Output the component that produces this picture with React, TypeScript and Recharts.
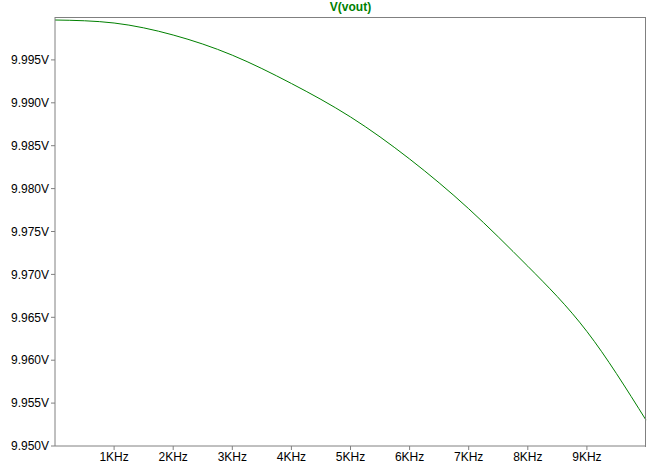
import React from 'react';
import { LineChart, Line, XAxis, YAxis } from 'recharts';

// frequency in Hz, voltage
const freqs = [0, 1000, 2000, 3000, 4000, 5000, 6000, 7000, 8000, 9000, 10000];
const vout = [9.99965, 9.9993, 9.9979, 9.99555, 9.99225, 9.98835, 9.98345, 9.97765, 9.97095, 9.96335, 9.95302];
const xTicks = [1000, 2000, 3000, 4000, 5000, 6000, 7000, 8000, 9000];
const yTicks = [9.95, 9.955, 9.96, 9.965, 9.97, 9.975, 9.98, 9.985, 9.99, 9.995];

const data = freqs.map((f, i) => ({ f, v: vout[i] }));
const tickStyle = { fontSize: 12, fill: '#000', fontFamily: 'Liberation Sans, Arial, sans-serif' };

export default function App() {
  return (
    <div style={{ position: 'absolute', left: 0, top: 0, width: 658, height: 474, background: '#fff' }}>
      <div
        style={{
          position: 'absolute', left: 55, width: 591, top: 0, textAlign: 'center',
          fontFamily: 'Liberation Sans, Arial, sans-serif', fontSize: 12, fontWeight: 'bold', color: '#008000',
        }}
      >
        V(vout)
      </div>
      <LineChart width={658} height={474} data={data} margin={{ top: 17, right: 12, left: 0, bottom: 0 }}>
        <XAxis
          dataKey="f" type="number" domain={[0, 10000]} ticks={xTicks}
          tickFormatter={(v: number) => `${v / 1000}KHz`}
          tick={tickStyle} height={28} stroke="#808080" tickSize={4}
        />
        <YAxis
          type="number" domain={[9.95, 10]} ticks={yTicks} allowDataOverflow
          tickFormatter={(v: number) => `${v.toFixed(3)}V`}
          tick={tickStyle} width={55} stroke="#808080" tickSize={4}
        />
        <Line type="natural" dataKey="v" stroke="#008000" strokeWidth={1} dot={false} isAnimationActive={false} />
      </LineChart>
      <div
        style={{
          position: 'absolute', left: 55, top: 17, width: 590, height: 429, pointerEvents: 'none',
          borderTop: '1px solid #808080', borderRight: '1px solid #808080',
        }}
      />
    </div>
  );
}
